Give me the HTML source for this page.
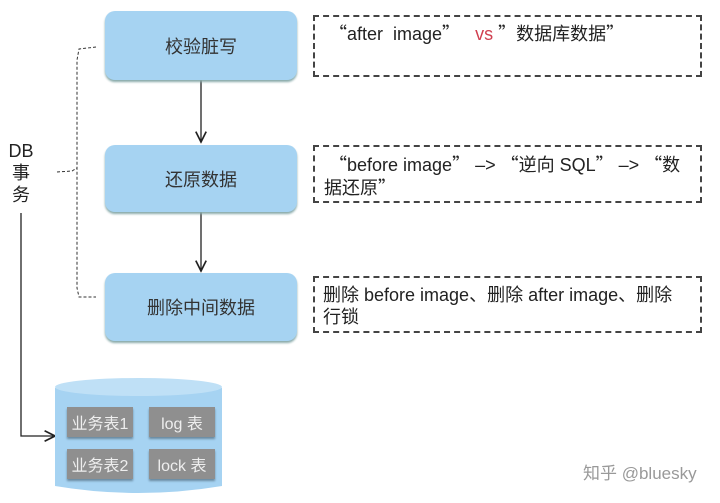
<!DOCTYPE html>
<html><head><meta charset="utf-8"><style>
body{margin:0;width:720px;height:503px;background:#fff;position:relative;overflow:hidden;font-family:"Liberation Sans","Noto Sans CJK SC",sans-serif;color:#222}
.b{position:absolute;left:105px;width:192px;background:#a6d3f2;border-radius:10px;box-shadow:0 2px 2px #8aa;display:flex;align-items:center;justify-content:center;font-size:18px;color:#333}
.d{position:absolute;left:313px;width:389px;border:2px dashed #444;font-size:18px;line-height:22px;padding:0 8px;box-sizing:border-box;white-space:nowrap}
.t{position:absolute;width:66px;height:30px;background:#8f8f8f;color:#eee;font-size:16px;display:flex;align-items:center;justify-content:center;box-shadow:0 2px 2px #6a8aa0}
.q{font-family:"Noto Sans CJK SC",sans-serif}
</style></head><body>
<svg width="720" height="503" style="position:absolute;left:0;top:0">
<defs><marker id="a" markerWidth="10" markerHeight="10" refX="9" refY="5" orient="auto"><path d="M1,1 L9,5 L1,9" fill="none" stroke="#222" stroke-width="1.3"/></marker></defs>
<path d="M96,47 L79,49 L77,60 L77,288 L79,297 L96,297" fill="none" stroke="#333" stroke-dasharray="3,2"/>
<path d="M57,172 L72,171 L77,168" fill="none" stroke="#333" stroke-dasharray="3,2"/>
<line x1="201" y1="80" x2="201" y2="142" stroke="#222" stroke-width="1.3" marker-end="url(#a)"/>
<line x1="201" y1="212" x2="201" y2="271" stroke="#222" stroke-width="1.3" marker-end="url(#a)"/>
<path d="M21,213 L21,436 L55,436" fill="none" stroke="#222" stroke-width="1.3" marker-end="url(#a)"/>
<path d="M55,388 L55,486 Q138,500 222,486 L222,388 Z" fill="#a6d3f2"/>
<ellipse cx="138.5" cy="387" rx="83.5" ry="9" fill="#bfe0f6"/>
</svg>
<div class="b" style="top:11px;height:69px">校验脏写</div>
<div class="b" style="top:145px;height:67px">还原数据</div>
<div class="b" style="top:273px;height:68px">删除中间数据</div>
<div style="position:absolute;left:6px;top:140px;width:30px;text-align:center;font-size:18px;line-height:22px">DB<br>事<br>务</div>
<div class="d" style="top:15px;height:62px;padding-top:5px;padding-left:14px"><span class="q">“</span>after&nbsp; image<span class="q">”</span> &nbsp; <span style="color:#d04050">vs</span> <span class="q">”</span>数据库数据<span class="q">”</span></div>
<div class="d" style="top:145px;height:58px;padding-top:6px;padding-left:14px"><span class="q">“</span>before image<span class="q">”</span> –&gt; <span class="q">“</span>逆向 SQL<span class="q">”</span> –&gt; <span class="q">“</span>数<br><span style="margin-left:-5px">据还原<span class="q">”</span></span></div>
<div class="d" style="top:276px;height:57px;padding-top:6px">删除 before image、删除 after image、删除<br>行锁</div>
<div class="t" style="left:67px;top:407px">业务表1</div>
<div class="t" style="left:149px;top:407px">log 表</div>
<div class="t" style="left:67px;top:449px">业务表2</div>
<div class="t" style="left:149px;top:449px">lock 表</div>
<div style="position:absolute;left:583px;top:459px;font-size:17px;color:#999">知乎 @bluesky</div>
</body></html>
